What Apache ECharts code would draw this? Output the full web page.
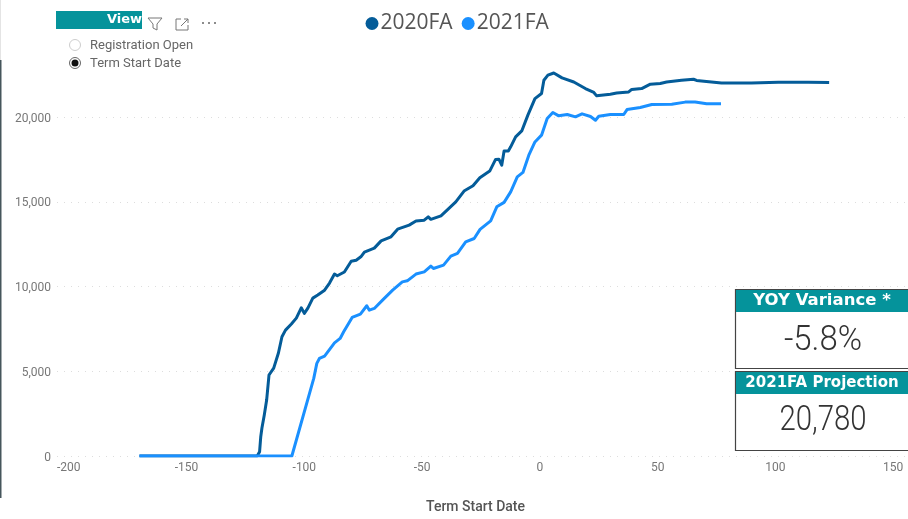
<!DOCTYPE html>
<html>
<head>
<meta charset="utf-8">
<title>Term Start Date</title>
<script src="https://cdn.jsdelivr.net/npm/echarts@6/dist/echarts.min.js"></script>
<style>
html, body { margin: 0; padding: 0; background: #fff; }
#main { width: 908px; height: 519px; }
</style>
</head>
<body>
<div id="main"></div>
<script>
'use strict';

var seriesNames = ['2020FA', '2021FA'];
var seriesColors = ['#045c99', '#1a90ff'];
var xTicks = [-200, -150, -100, -50, 0, 50, 100, 150];

// 数据: days from term start / headcount
var days2020 = [-170, -120, -119, -118.5, -118, -117, -116, -115, -113, -111, -109.5, -108, -105.5, -103.4, -101.3, -100, -98.5, -96.4, -94.3, -91.4, -89.3, -87.2, -86, -83, -80.1, -78, -76, -74.5, -70.3, -67.4, -63.2, -60.4, -55.5, -52.6, -49.1, -47.4, -46.3, -42, -38.5, -35.7, -32.2, -28.4, -25.5, -21.3, -18.8, -17.4, -16.2, -15.2, -13.4, -12.4, -10.3, -7.7, -5.1, -2.1, 0.7, 1.7, 3.4, 5.9, 9.4, 14.4, 19.3, 22.9, 24.1, 29.9, 32.6, 37.7, 39, 43.2, 46.9, 51.1, 53.8, 60.1, 65.2, 66.5, 70.7, 77.1, 89.8, 101.2, 113.9, 122.8];
var values2020 = [0, 0, 250, 1140, 1650, 2420, 3300, 4780, 5190, 6080, 7040, 7430, 7790, 8140, 8750, 8420, 8730, 9320, 9500, 9790, 10210, 10740, 10640, 10860, 11500, 11560, 11760, 12040, 12270, 12700, 12940, 13390, 13630, 13870, 13920, 14120, 13970, 14180, 14630, 15000, 15640, 15950, 16420, 16820, 17510, 17520, 17170, 18000, 18000, 18250, 18840, 19190, 20120, 21100, 21400, 22180, 22480, 22610, 22320, 22080, 21690, 21460, 21260, 21360, 21430, 21490, 21640, 21690, 21950, 21990, 22080, 22180, 22240, 22170, 22110, 22020, 22020, 22070, 22070, 22050];
var days2021 = [-170, -105.3, -96, -94.7, -93.6, -91.4, -87.2, -84.8, -83.3, -79.7, -76.2, -73.5, -72.4, -70.3, -66.8, -62.5, -58.4, -56.3, -52.6, -49.1, -46.3, -45.2, -40.9, -37.8, -35, -31.5, -27.9, -25.4, -20.9, -18.3, -15.2, -12.4, -9.6, -7.2, -4.7, -2.1, 0.7, 3.1, 5.5, 8, 11.6, 15.1, 17.9, 21.5, 23.6, 25, 29.9, 35.6, 37, 42.6, 47.5, 56, 61.7, 65.9, 70.8, 76.9];
var values2021 = [0, 0, 4580, 5470, 5760, 5900, 6680, 6940, 7330, 8180, 8380, 8870, 8610, 8710, 9200, 9790, 10280, 10340, 10740, 10870, 11210, 11070, 11270, 11800, 11960, 12640, 12840, 13380, 13880, 14710, 14970, 15590, 16480, 16740, 17760, 18540, 18940, 19920, 20280, 20080, 20160, 20020, 20200, 20040, 19820, 20060, 20160, 20160, 20450, 20570, 20750, 20770, 20890, 20900, 20790, 20790];

var yoyVariance = '-5.8%';
var projection = '20,780';

function zip(xs, ys) {
    return xs.map(function(x, i) { return [x, ys[i]]; });
}

function lineSeries(i, xs, ys) {
    return {
        name: seriesNames[i],
        type: 'line',
        data: zip(xs, ys),
        showSymbol: false,
        symbol: 'circle',
        lineStyle: { color: seriesColors[i], width: 3, join: 'round' },
        itemStyle: { color: seriesColors[i] }
    };
}

// KPI 卡片
function card(top, title, titleSize, value, valueY, squeeze) {
    return [
        { type: 'rect', shape: { x: 735.5, y: top + 0.5, width: 180, height: 79 },
          style: { fill: '#fff', stroke: '#444', lineWidth: 1.2 } },
        { type: 'rect', shape: { x: 736, y: top + 1, width: 172, height: 22 },
          style: { fill: '#05939b' } },
        { type: 'text', x: 822, y: top + 12,
          style: { text: title, fill: '#fff', font: 'bold ' + titleSize + 'px "DejaVu Sans"', align: 'center', verticalAlign: 'middle' } },
        { type: 'text', x: 823, y: valueY, scaleX: squeeze,
          style: { text: value, fill: '#333', font: '300 35px Roboto', align: 'center', verticalAlign: 'middle' } }
    ];
}

function label(x, y, text) {
    return { type: 'text', x: x, y: y,
        style: { text: text, fill: '#666', font: '13px Roboto', verticalAlign: 'middle' } };
}

var decorations = [
    // 左边框
    { type: 'rect', shape: { x: 0, y: 60, width: 1.5, height: 438 }, style: { fill: '#46565c' } },
    { type: 'rect', shape: { x: 0, y: 0, width: 1, height: 60 }, style: { fill: '#e4e4e4' } },
    // slicer header
    { type: 'rect', shape: { x: 56, y: 11, width: 86, height: 18 }, style: { fill: '#05939b' } },
    { type: 'text', x: 142, y: 20, style: { text: 'View', fill: '#fff', font: 'bold 13px "DejaVu Sans"', align: 'right', verticalAlign: 'middle' } },
    // filter icon
    { type: 'polyline', shape: { points: [[148, 18], [162, 18], [157, 24], [157, 30], [153, 28], [153, 24], [148, 18]] },
      style: { fill: 'none', stroke: '#777', lineWidth: 1 } },
    // focus icon
    { type: 'polyline', shape: { points: [[181, 19], [176, 19], [176, 30], [188, 30], [188, 25]] },
      style: { fill: 'none', stroke: '#777', lineWidth: 1 } },
    { type: 'polyline', shape: { points: [[181, 26], [188, 19]] }, style: { fill: 'none', stroke: '#777', lineWidth: 1 } },
    { type: 'polyline', shape: { points: [[184, 19], [188, 19], [188, 23]] }, style: { fill: 'none', stroke: '#777', lineWidth: 1 } },
    { type: 'circle', shape: { cx: 203, cy: 23, r: 1 }, style: { fill: '#666' } },
    { type: 'circle', shape: { cx: 209, cy: 23, r: 1 }, style: { fill: '#666' } },
    { type: 'circle', shape: { cx: 215, cy: 23, r: 1 }, style: { fill: '#666' } },
    // radio buttons
    { type: 'circle', shape: { cx: 75, cy: 45, r: 5.5 }, style: { fill: '#fff', stroke: '#ccc', lineWidth: 1 } },
    { type: 'circle', shape: { cx: 75, cy: 63, r: 5.5 }, style: { fill: '#fff', stroke: '#666', lineWidth: 1 } },
    { type: 'circle', shape: { cx: 75, cy: 63, r: 3.5 }, style: { fill: '#111' } },
    label(90, 45.5, 'Registration Open'),
    label(90, 63.5, 'Term Start Date')
].concat(card(289, 'YOY Variance *', 16.5, yoyVariance, 341, 0.94), card(371, '2021FA Projection', 15, projection, 421, 0.84));

decorations.forEach(function(el) { el.z = 100; });

var chart = echarts.init(document.getElementById('main'), null, { renderer: 'canvas' });

chart.setOption({
    animation: false,
    textStyle: { fontFamily: 'Roboto' },
    legend: {
        data: seriesNames,
        top: 8,
        left: 360.5,
        icon: 'circle',
        itemWidth: 13,
        itemHeight: 13,
        itemGap: 9,
        textStyle: { fontSize: 21, color: '#555', fontFamily: '"Open Sans"', padding: [0, 0, 0, -3] }
    },
    grid: { left: 57, right: 1, top: 32.5, height: 424 },
    xAxis: {
        type: 'value',
        min: -205,
        max: 155,
        interval: 5,
        name: 'Term Start Date',
        nameLocation: 'middle',
        nameGap: 44,
        nameTextStyle: { color: '#555', fontSize: 14, fontWeight: 500, padding: [0, 11, 0, 0] },
        axisLine: { show: false },
        axisTick: { show: false },
        splitLine: { show: false },
        axisLabel: {
            color: '#777',
            fontSize: 12,
            margin: 6,
            formatter: function(v) { return xTicks.indexOf(v) >= 0 ? String(v) : ''; }
        }
    },
    yAxis: {
        type: 'value',
        min: 0,
        max: 25000,
        interval: 5000,
        axisLine: { show: false },
        axisTick: { show: false },
        splitLine: { showMaxLine: false, lineStyle: { color: '#ddd', type: [1, 6] } },
        axisLabel: {
            margin: 6,
            showMaxLabel: false,
            rich: { tick: { color: '#777', fontSize: 12, padding: [3, 0, 0, 0] } },
            formatter: function(v) { return '{tick|' + v.toLocaleString('en-US') + '}'; }
        }
    },
    series: [
        lineSeries(0, days2020, values2020),
        lineSeries(1, days2021, values2021)
    ],
    graphic: { elements: decorations }
});
</script>
</body>
</html>
